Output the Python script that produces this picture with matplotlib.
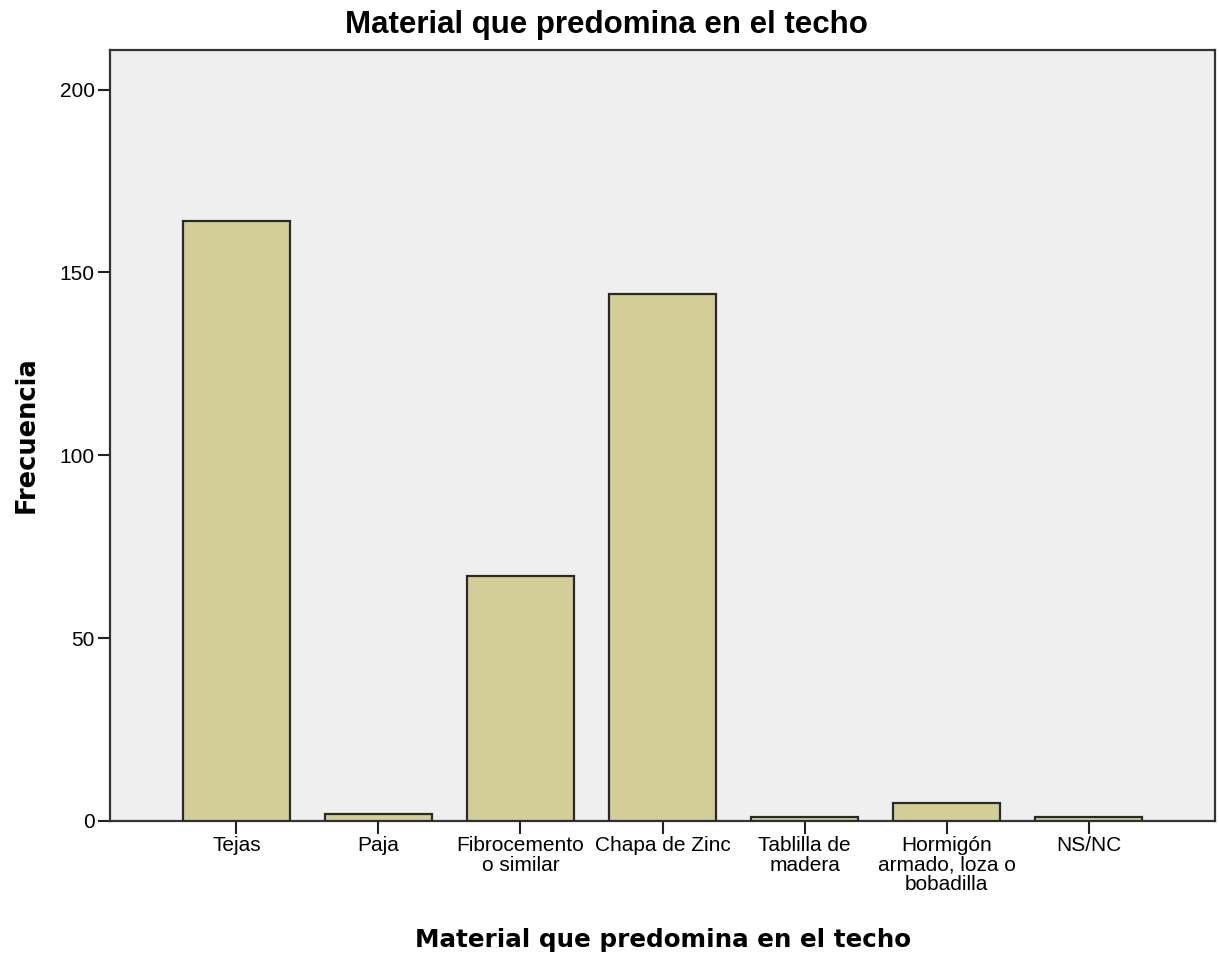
import matplotlib
matplotlib.use("Agg")
import matplotlib.pyplot as plt
import numpy as np

categories = ["Tejas", "Paja", "Fibrocemento\no similar", "Chapa de Zinc",
              "Tablilla de\nmadera", "Hormigón\narmado, loza o\nbobadilla", "NS/NC"]
frecuencia = [164, 2, 67, 144, 1, 5, 1]
yticks = [0, 50, 100, 150, 200]

W, H = 1219, 956
fig = plt.figure(figsize=(W / 100, H / 100), dpi=100)
ax = fig.add_axes([110 / W, 1 - 821 / H, (1215 - 110) / W, (821 - 50) / H])
ax.set_facecolor("#EFEFEF")

x = np.arange(len(categories))
ax.bar(x, frecuencia, width=0.75, color="#D3CE97", edgecolor="#2A2A2A",
       linewidth=1.6, zorder=3)

ax.set_xlim(-0.89, 6.89)
ax.set_ylim(0, 210.8)
ax.set_yticks(yticks)
ax.set_xticks(x)
ax.set_xticklabels(categories, fontfamily="Liberation Sans", fontsize=15,
                   linespacing=1.02)
for lab in ax.get_yticklabels():
    lab.set_fontfamily("Liberation Sans")
    lab.set_fontsize(15)
ax.tick_params(axis="both", direction="out", length=9, width=1.5,
               color="#222222", pad=2)
for s in ax.spines.values():
    s.set_linewidth(1.6)
    s.set_color("#333333")

fig.text(606 / W, 1 - 25 / H, "Material que predomina en el techo",
         ha="center", va="center", fontsize=22.5, fontweight="bold",
         fontfamily="Liberation Sans")
fig.text(663 / W, 1 - 940 / H, "Material que predomina en el techo",
         ha="center", va="center", fontsize=17.7, fontweight="bold",
         fontfamily="DejaVu Sans")
fig.text(27 / W, 1 - 435 / H, "Frecuencia", rotation=90,
         ha="center", va="center", fontsize=18.5, fontweight="bold",
         fontfamily="DejaVu Sans")

fig.savefig("out.png", dpi=100)
